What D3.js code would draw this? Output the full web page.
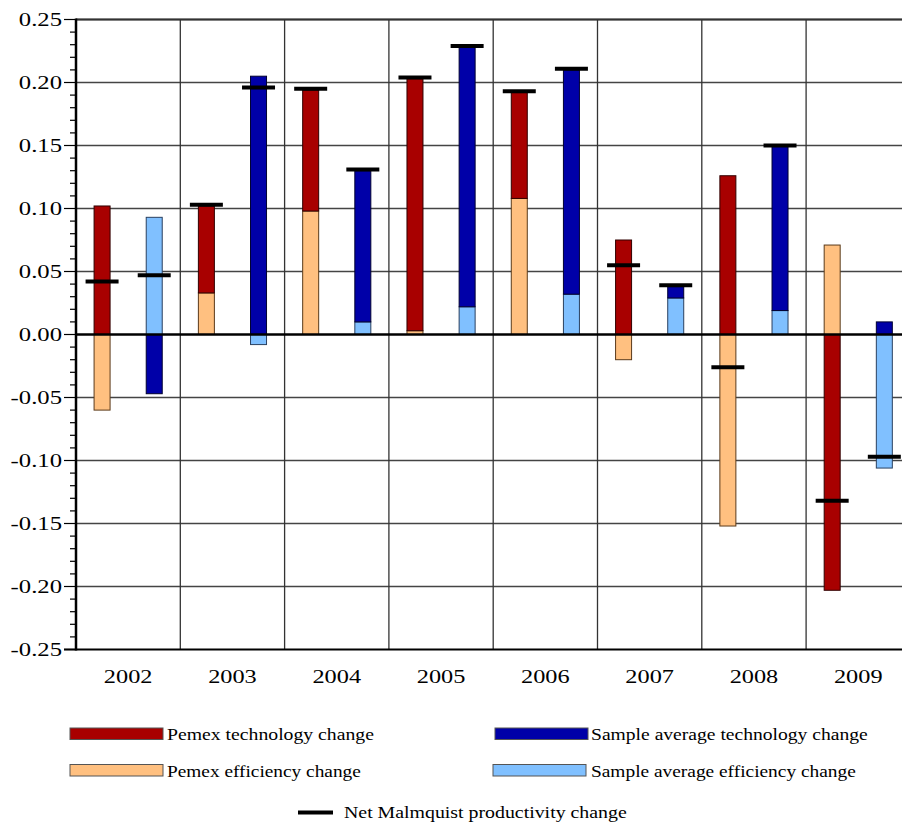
<!DOCTYPE html>
<html>
<head>
<meta charset="utf-8">
<script src="https://cdn.jsdelivr.net/npm/d3@7"></script>
<style>
html,body{margin:0;padding:0;background:#fff;}
svg{display:block;}
</style>
</head>
<body>
<svg id="chart" width="902" height="823"></svg>
<script>
const years = ["2002","2003","2004","2005","2006","2007","2008","2009"];
const pemexTech  = [0.102, 0.069, 0.096, 0.200, 0.084, 0.075, 0.126, -0.203];
const pemexEff   = [-0.060, 0.033, 0.098, 0.003, 0.108, -0.020, -0.152, 0.071];
const sampleTech = [-0.047, 0.205, 0.120, 0.206, 0.178, 0.009, 0.131, 0.010];
const sampleEff  = [0.093, -0.008, 0.010, 0.022, 0.032, 0.029, 0.019, -0.106];
const pemexNet   = [0.042, 0.103, 0.195, 0.204, 0.193, 0.055, -0.026, -0.132];
const sampleNet  = [0.047, 0.196, 0.131, 0.229, 0.211, 0.039, 0.150, -0.097];
const yTicks = [-0.25,-0.20,-0.15,-0.10,-0.05,0,0.05,0.10,0.15,0.20,0.25];
const legendLabels = ["Pemex technology change","Sample average technology change","Pemex efficiency change","Sample average efficiency change"];
const legendColors = ["#A80000","#0000A8","#FFC080","#80C0FF"];
const netLabel = "Net Malmquist productivity change";

(function(){
const FONT = "'Liberation Serif'";
const svg = d3.select("#chart");
const L = 76, T = 19.5, B = 649.5, R = 910.4;

const x = d3.scaleBand().domain(years).range([L, R]).paddingInner(0).paddingOuter(0);
const half = d3.scaleBand().domain(["p","s"]).range([0, x.bandwidth()]);
const y = d3.scaleLinear().domain([-0.25, 0.25]).range([B, T]);

// text stretched horizontally via transform (no textLength)
function addText(parent, str, px, py, size, anchor, k, targetW){
  const g = parent.append("g").attr("transform", `translate(${px},${py})`);
  const t = g.append("text").attr("x",0).attr("y",0)
    .attr("text-anchor", anchor)
    .style("font-family", FONT).attr("font-size", size).attr("fill","#000")
    .text(str);
  let sx = k;
  if (targetW) { sx = targetW / t.node().getComputedTextLength(); }
  t.attr("transform", `scale(${sx},1)`);
  return g;
}

// horizontal gridlines
svg.append("g").selectAll("line").data(yTicks.filter(v=>v!==0 && v!==-0.25))
  .join("line")
  .attr("x1", L).attr("x2", R)
  .attr("y1", d=>y(d)).attr("y2", d=>y(d))
  .attr("stroke", "#444").attr("stroke-width", 1.3);

// vertical category dividers
svg.append("g").selectAll("line").data(years.slice(1))
  .join("line")
  .attr("x1", d=>x(d)).attr("x2", d=>x(d))
  .attr("y1", T).attr("y2", B)
  .attr("stroke", "#333").attr("stroke-width", 1.3);

// bars
const barW = 16;
const series = [
  {key:"p", eff:pemexEff, tech:pemexTech, effColor:"#FFC080", techColor:"#A80000", effStroke:"#5a3a1a", techStroke:"#300000"},
  {key:"s", eff:sampleEff, tech:sampleTech, effColor:"#80C0FF", techColor:"#0000A8", effStroke:"#2a4060", techStroke:"#000030"}
];
const barsG = svg.append("g");
series.forEach(s=>{
  const segs = years.map((yr,i)=>{
    const e = s.eff[i], t = s.tech[i];
    const base = (Math.sign(e)===Math.sign(t)) ? e : 0;
    return [
      {yr, y0:0, y1:e, color:s.effColor, stroke:s.effStroke},
      {yr, y0:base, y1:base+t, color:s.techColor, stroke:s.techStroke}
    ];
  }).flat();
  barsG.selectAll(null).data(segs).join("rect")
    .attr("x", d=>x(d.yr)+half(s.key)+half.bandwidth()/2-barW/2)
    .attr("width", barW)
    .attr("y", d=>y(Math.max(d.y0,d.y1)))
    .attr("height", d=>Math.abs(y(d.y0)-y(d.y1)))
    .attr("fill", d=>d.color)
    .attr("stroke", d=>d.stroke).attr("stroke-width", 1);
});

// zero line
svg.append("line").attr("x1", L).attr("x2", R).attr("y1", y(0)).attr("y2", y(0))
  .attr("stroke","#000").attr("stroke-width",2.5);

// top border
svg.append("line").attr("x1", L).attr("x2", R).attr("y1", T).attr("y2", T)
  .attr("stroke","#333").attr("stroke-width",2);
// bottom axis
svg.append("line").attr("x1", L-12).attr("x2", R).attr("y1", B).attr("y2", B)
  .attr("stroke","#000").attr("stroke-width",2.2);

// net markers
const netW = 33;
[["p",pemexNet],["s",sampleNet]].forEach(([k,arr])=>{
  svg.append("g").selectAll("line").data(years.map((yr,i)=>({yr,v:arr[i]})))
    .join("line")
    .attr("x1", d=>x(d.yr)+half(k)+half.bandwidth()/2-netW/2)
    .attr("x2", d=>x(d.yr)+half(k)+half.bandwidth()/2+netW/2)
    .attr("y1", d=>y(d.v)).attr("y2", d=>y(d.v))
    .attr("stroke","#000").attr("stroke-width",4);
});

// y axis with minor ticks
const minor = d3.range(-25, 26).map(v=>v/100);
svg.append("g").selectAll("line").data(minor).join("line")
  .attr("x1", d=> (Math.round(d*100)%5===0) ? L-12 : L-6)
  .attr("x2", L)
  .attr("y1", d=>y(d)).attr("y2", d=>y(d))
  .attr("stroke","#000").attr("stroke-width",1.2);
svg.append("line").attr("x1", L).attr("x2", L).attr("y1", T-1).attr("y2", B+1)
  .attr("stroke","#000").attr("stroke-width",2.5);

const ylG = svg.append("g");
yTicks.forEach(v=>{
  addText(ylG, d3.format(".2f")(v).replace("\u2212","-"), 62, y(v)+6.5, 19, "end", 1.3);
});

// x labels
const xlG = svg.append("g");
years.forEach(yr=>{
  addText(xlG, yr, x(yr)+x.bandwidth()/2, 683, 19, "middle", 1.28);
});

// legend
const legPos = [
  {sx:70, sw:93, sy:728, tx:167, ty:740},
  {sx:495, sw:93, sy:728, tx:591, ty:740},
  {sx:70, sw:93, sy:764.5, tx:167, ty:777},
  {sx:493, sw:93, sy:764.5, tx:591, ty:777}
];
const legW = [207, 277, 194, 265];
const lg = svg.append("g");
legendLabels.forEach((lab,i)=>{
  const p = legPos[i];
  lg.append("rect").attr("x",p.sx).attr("y",p.sy).attr("width",p.sw).attr("height",11.5)
    .attr("fill",legendColors[i]).attr("stroke","#555").attr("stroke-width",1);
  addText(lg, lab, p.tx, p.ty, 17, "start", 1, legW[i]);
});
lg.append("line").attr("x1",298).attr("x2",333).attr("y1",812.5).attr("y2",812.5)
  .attr("stroke","#000").attr("stroke-width",4);
addText(lg, netLabel, 344, 818, 17, "start", 1, 283);
})();
</script>
</body>
</html>
